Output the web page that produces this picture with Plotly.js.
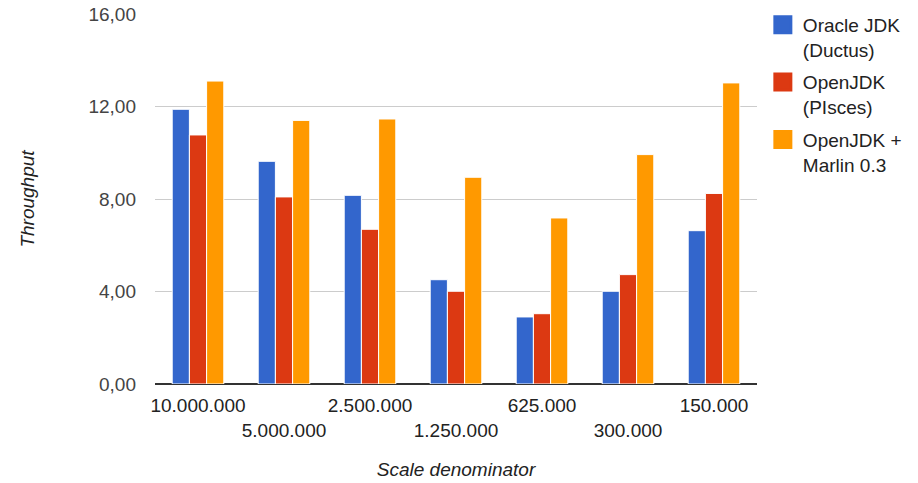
<!DOCTYPE html>
<html>
<head>
<meta charset="utf-8">
<script src="https://cdn.plot.ly/plotly-3.0.1.min.js"></script>
<style>html,body{margin:0;padding:0;background:#fff;}#chart{width:918px;height:483px;}</style>
</head>
<body>
<div id="chart"></div>
<script>
var categories = ["10.000.000", "5.000.000", "2.500.000", "1.250.000", "625.000", "300.000", "150.000"];
var tickLabels = ["10.000.000", "<br>5.000.000", "2.500.000", "<br>1.250.000", "625.000", "<br>300.000", "150.000"];
var seriesNames = ["Oracle JDK<br>(Ductus)", "OpenJDK<br>(PIsces)", "OpenJDK +<br>Marlin 0.3"];
var oracleDuctus = [11.88, 9.63, 8.16, 4.51, 2.90, 4.01, 6.63];
var openjdkPisces = [10.77, 8.09, 6.69, 4.01, 3.04, 4.73, 8.24];
var openjdkMarlin = [13.10, 11.40, 11.46, 8.94, 7.18, 9.92, 13.02];
var colors = ["#3366cc", "#dc3912", "#ff9900"];
var allSeries = [oracleDuctus, openjdkPisces, openjdkMarlin];

var traces = [];
allSeries.forEach(function (vals, i) {
  traces.push({
    type: "bar", x: categories, y: vals, name: seriesNames[i],
    marker: {color: colors[i], line: {color: "#ffffff", width: 1}},
    showlegend: false, hoverinfo: "y"
  });
});
allSeries.forEach(function (vals, i) {
  traces.push({
    type: "scatter", mode: "markers", x: [categories[0]], y: [null],
    name: seriesNames[i], legendgroup: "g" + i,
    marker: {symbol: "square", size: 16, color: colors[i], line: {width: 3, color: colors[i]}},
    showlegend: true, hoverinfo: "skip"
  });
});

var font = "Liberation Sans, Arial, sans-serif";
var layout = {
  width: 918, height: 483,
  margin: {l: 155, r: 161, t: 14, b: 99},
  paper_bgcolor: "#ffffff", plot_bgcolor: "#ffffff",
  font: {family: font, size: 19, color: "#222222"},
  separators: ",.",
  barmode: "group", bargap: 0.4, bargroupgap: 0,
  showlegend: true,
  legend: {
    xref: "container", yref: "container",
    x: 0.831, y: 0.988, xanchor: "left", yanchor: "top",
    font: {family: font, size: 19, color: "#222222"},
    valign: "top", tracegroupgap: 5, itemclick: false
  },
  xaxis: {
    type: "category",
    tickvals: categories, ticktext: tickLabels, tickangle: 0,
    tickfont: {family: font, size: 19, color: "#222222"},
    showgrid: false, zeroline: false, showline: false, ticks: "",
    ticklabelstandoff: 8,
    title: {text: "Scale denominator", font: {family: font, size: 19, color: "#222222", style: "italic"}, standoff: 22}
  },
  yaxis: {
    range: [0, 16], dtick: 4, tick0: 0, tickformat: ".2f",
    tickfont: {family: font, size: 19, color: "#444444"},
    showgrid: true, gridcolor: "#cccccc", gridwidth: 1,
    zeroline: true, zerolinecolor: "#333333", zerolinewidth: 2,
    showline: false, ticks: "", ticklabelstandoff: 18,
    title: {text: "Throughput", font: {family: font, size: 19, color: "#222222", style: "italic"}, standoff: 48}
  }
};
Plotly.newPlot("chart", traces, layout, {displayModeBar: false, staticPlot: true});
</script>
</body>
</html>
